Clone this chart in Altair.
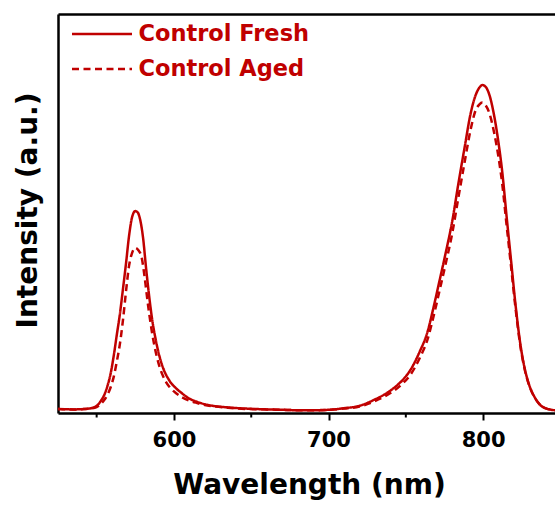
import altair as alt
import pandas as pd

series_names = ["Control Fresh", "Control Aged"]
major_ticks = [600, 700, 800]
minor_ticks = [550, 650, 750]

fresh_wl = [525, 535, 545, 550, 553, 555, 557, 559, 561, 563, 565, 567, 569, 571, 573, 575, 576.5, 578,
            580, 582, 584, 586, 588, 590, 592, 594, 596, 598, 600, 605, 610, 615, 620, 625, 635, 647,
            660, 670, 680, 690, 700, 710, 720, 730, 736, 742, 748, 753, 759, 764, 768, 772, 776, 780,
            784, 788, 792, 795, 797.5, 799.5, 801.5, 804, 807, 810, 812.5, 815, 818, 821, 824, 827,
            830, 833, 837, 841, 846.5]
fresh_int = [0.010, 0.009, 0.011, 0.018, 0.032, 0.046, 0.068, 0.098, 0.142, 0.195, 0.247, 0.310, 0.375,
             0.445, 0.492, 0.506, 0.503, 0.487, 0.440, 0.362, 0.292, 0.232, 0.188, 0.152, 0.124, 0.103,
             0.088, 0.076, 0.067, 0.050, 0.036, 0.028, 0.022, 0.018, 0.014, 0.011, 0.009, 0.008, 0.007,
             0.007, 0.008, 0.012, 0.018, 0.034, 0.046, 0.062, 0.083, 0.108, 0.154, 0.203, 0.266, 0.335,
             0.405, 0.480, 0.575, 0.665, 0.752, 0.795, 0.815, 0.822, 0.818, 0.798, 0.748, 0.676, 0.600,
             0.500, 0.385, 0.270, 0.175, 0.110, 0.068, 0.042, 0.020, 0.011, 0.007]

aged_wl = [525, 535, 545, 550, 553, 555, 557, 559, 561, 563, 565, 567, 569, 571, 573, 575, 577, 579,
           581, 583, 585, 587, 589, 591, 593, 595, 597, 600, 605, 610, 615, 620, 625, 635, 647, 660,
           670, 680, 690, 700, 710, 720, 730, 736, 742, 748, 753, 759, 764, 768, 772, 776, 780, 784,
           788, 792, 795, 797.5, 799.5, 801.5, 804, 807, 810, 812.5, 815, 818, 821, 824, 827, 830,
           833, 837, 841, 846.5]
aged_int = [0.010, 0.009, 0.011, 0.015, 0.024, 0.033, 0.046, 0.064, 0.090, 0.128, 0.172, 0.232, 0.305,
            0.370, 0.402, 0.414, 0.408, 0.392, 0.342, 0.278, 0.222, 0.176, 0.140, 0.112, 0.092, 0.077,
            0.066, 0.054, 0.040, 0.031, 0.025, 0.020, 0.017, 0.013, 0.010, 0.009, 0.008, 0.007, 0.007,
            0.008, 0.011, 0.016, 0.030, 0.041, 0.055, 0.074, 0.096, 0.138, 0.184, 0.243, 0.310, 0.378,
            0.450, 0.540, 0.628, 0.712, 0.757, 0.773, 0.778, 0.772, 0.752, 0.705, 0.640, 0.570, 0.478,
            0.370, 0.262, 0.170, 0.108, 0.067, 0.041, 0.020, 0.011, 0.007]

df = pd.concat([
    pd.DataFrame({"wl": fresh_wl, "I": fresh_int, "s": series_names[0]}),
    pd.DataFrame({"wl": aged_wl, "I": aged_int, "s": series_names[1]}),
], ignore_index=True)
minor_df = pd.DataFrame({"wl": minor_ticks})

RED = "#c00000"
FONT = "DejaVu Sans"
W, H = 497, 399

x_scale = alt.Scale(domain=[525, 846.5], nice=False, zero=False)
y_scale = alt.Scale(domain=[0, 1], nice=False, zero=True)

y_enc = alt.Y("I:Q", scale=y_scale, axis=alt.Axis(
    title="Intensity (a.u.)", labels=False, ticks=False, grid=False,
    domainWidth=2.5, domainColor="black",
    titleFont=FONT, titleFontSize=28, titleFontWeight="bold", titleColor="black",
    titleX=-22, titleY=196, titleBaseline="alphabetic", titleAlign="center", titleAngle=270,
))

main = alt.Chart(df).mark_line(clip=True, strokeWidth=2.5, interpolate="monotone").encode(
    x=alt.X("wl:Q", scale=x_scale, axis=alt.Axis(
        values=major_ticks, title="Wavelength (nm)", grid=False,
        domainWidth=2.5, domainColor="black",
        tickColor="black", tickWidth=2, tickSize=7,
        labelFont=FONT, labelFontSize=21, labelFontWeight="bold", labelColor="black",
        labelPadding=9, labelFlush=False,
        titleFont=FONT, titleFontSize=28, titleFontWeight="bold", titleColor="black",
        titleX=251, titleY=80, titleBaseline="alphabetic",
    )),
    y=y_enc,
    color=alt.value(RED),
    strokeDash=alt.StrokeDash("s:N", scale=alt.Scale(domain=series_names, range=[[1, 0], [7, 4.5]]),
        legend=alt.Legend(
            title=None, orient="none", legendX=0, legendY=8.5,
            symbolType="M-3,0H3", symbolSize=400, symbolStrokeWidth=2.5,
            symbolStrokeColor=RED, symbolOffset=32.5, labelOffset=25,
            labelFont=FONT, labelFontSize=22.5, labelFontWeight="bold", labelColor=RED,
            labelLimit=0, rowPadding=12, padding=0,
        )),
    detail="s:N",
)

minor = alt.Chart(minor_df).mark_rule(color="black", strokeWidth=2, clip=False).encode(
    x=alt.X("wl:Q", scale=x_scale, axis=None),
    y=alt.value(H),
    y2=alt.value(H + 4.5),
)

top = alt.Chart(df).mark_line(opacity=0).encode(
    x=alt.X("wl:Q", scale=x_scale, axis=alt.Axis(
        orient="top", labels=False, ticks=False, title=None, grid=False,
        domainWidth=2.5, domainColor="black")),
    y=y_enc,
    detail="s:N",
)

chart = alt.layer(main, top, minor).resolve_axis(x="independent").properties(
    width=W, height=H,
    padding={"left": 58, "top": 14, "right": 0, "bottom": 93},
    autosize=alt.AutoSizeParams(type="none"),
).configure_view(stroke=None).configure(background="white")

chart.save("out.html", embed_options={"renderer": "svg", "actions": False})
